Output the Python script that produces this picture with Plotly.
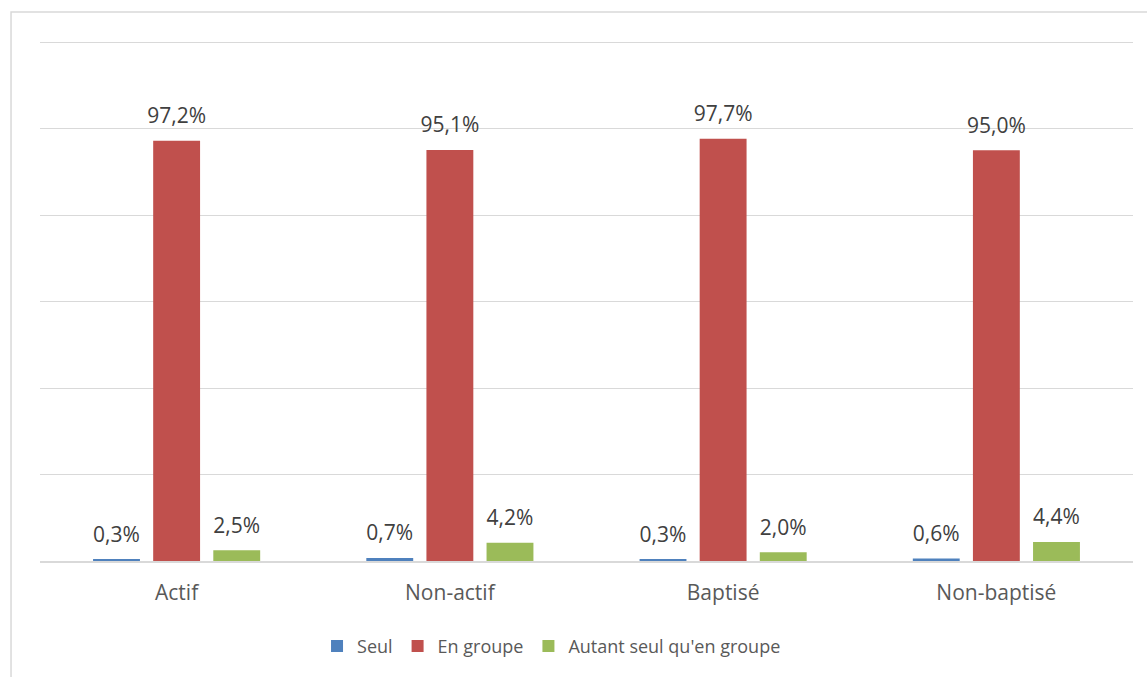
import plotly.graph_objects as go

categories = ["Actif", "Non-actif", "Baptisé", "Non-baptisé"]
series_names = ["Seul", "En groupe", "Autant seul qu'en groupe"]
seul = [0.3, 0.7, 0.3, 0.6]
en_groupe = [97.2, 95.1, 97.7, 95.0]
autant = [2.5, 4.2, 2.0, 4.4]
colors = ["#4F81BD", "#C0504D", "#9BBB59"]

def fmt(v):
    return f"{v:.1f}".replace(".", ",") + "%"

fig = go.Figure()
for i, (name, vals, col) in enumerate(zip(series_names, [seul, en_groupe, autant], colors)):
    fig.add_trace(go.Bar(
        x=categories, y=vals, name=name, offsetgroup=f"g{i}",
        marker=dict(color=col, line=dict(width=0)),
        hoverinfo="skip",
    ))
for i, (name, vals) in enumerate(zip(series_names, [seul, en_groupe, autant])):
    fig.add_trace(go.Scatter(
        x=categories, y=vals, mode="markers+text", showlegend=False,
        offsetgroup=f"g{i}",
        marker=dict(size=18, opacity=0),
        text=[fmt(v) for v in vals], textposition="top center",
        textfont=dict(family="Open Sans", size=21, color="#404040"),
        cliponaxis=False, hoverinfo="skip",
    ))

fig.update_layout(
    width=1147, height=677,
    margin=dict(l=40, r=14, t=41, b=116),
    paper_bgcolor="white", plot_bgcolor="white",
    barmode="group", bargap=0.34, bargroupgap=0.22,
    scattermode="group", scattergap=0.34,
    font=dict(family="Open Sans", color="#595959"),
    showlegend=True,
    legend=dict(orientation="h", x=0.468, xanchor="center", y=-0.164, yanchor="middle",
                font=dict(size=18, color="#595959"), itemwidth=30),
    xaxis=dict(showgrid=False, showline=True, linecolor="#d9d9d9", linewidth=1.5,
               ticks="", tickfont=dict(size=21, color="#595959"), ticklabelstandoff=12),
    yaxis=dict(range=[0, 120.3], dtick=20, showticklabels=False, showgrid=True,
               gridcolor="#d9d9d9", gridwidth=1.3, zeroline=False, showline=False),
    shapes=[dict(type="rect", xref="paper", yref="paper",
                 x0=-0.0265, x1=1.03, y0=-0.3, y1=1.0559,
                 line=dict(color="#d9d9d9", width=1.5), fillcolor="rgba(0,0,0,0)")],
)

fig.write_html("out.html")
